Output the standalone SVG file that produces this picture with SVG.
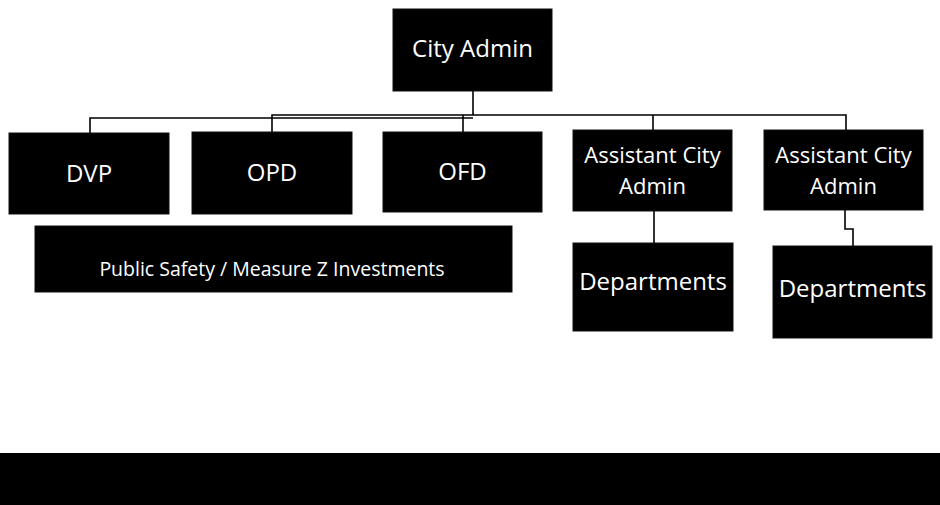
<svg xmlns="http://www.w3.org/2000/svg" width="940" height="505" viewBox="0 0 940 505">
<style>
.box{fill:#000;stroke:#111;stroke-width:1}
.t{fill:#fff;font-family:"Open Sans","Noto Sans",sans-serif;font-size:24px;text-anchor:middle}
.s{font-size:19.5px}
.a{font-size:22px}
.c{fill:none;stroke:#000;stroke-width:1.6}
</style>
<rect width="940" height="505" fill="#fff"/>
<g id="connectors">
<path class="c" d="M473 91V115"/>
<path class="c" d="M272 132V115H846V130"/>
<path class="c" d="M90 133V118H473"/>
<path class="c" d="M463 115V132"/>
<path class="c" d="M653 115V130"/>
<path class="c" d="M654 211V243"/>
<path class="c" d="M845 210V229H853V246"/>
</g>
<g id="city-admin"><rect class="box" x="393" y="9" width="159" height="82"/><text class="t" x="472.5" y="57">City Admin</text></g>
<g id="dvp"><rect class="box" x="9" y="133" width="160" height="81"/><text class="t" x="89" y="182">DVP</text></g>
<g id="opd"><rect class="box" x="192" y="132" width="160" height="82"/><text class="t" x="272" y="181">OPD</text></g>
<g id="ofd"><rect class="box" x="383" y="132" width="159" height="80"/><text class="t" x="462.5" y="180">OFD</text></g>
<g id="asst1"><rect class="box" x="573" y="130" width="159" height="81"/><text class="t a" x="652.5" y="163">Assistant City</text><text class="t a" x="652.5" y="194">Admin</text></g>
<g id="asst2"><rect class="box" x="764" y="130" width="159" height="80"/><text class="t a" x="843.5" y="163">Assistant City</text><text class="t a" x="843.5" y="194">Admin</text></g>
<g id="depts1"><rect class="box" x="573" y="243" width="160" height="88"/><text class="t" x="653" y="290">Departments</text></g>
<g id="depts2"><rect class="box" x="773" y="246" width="159" height="92"/><text class="t" x="852.5" y="297">Departments</text></g>
<g id="public-safety"><rect class="box" x="35" y="226" width="477" height="66"/><text class="t s" x="272" y="276">Public Safety / Measure Z Investments</text></g>
<rect x="0" y="453" width="940" height="52" fill="#000"/>
</svg>
